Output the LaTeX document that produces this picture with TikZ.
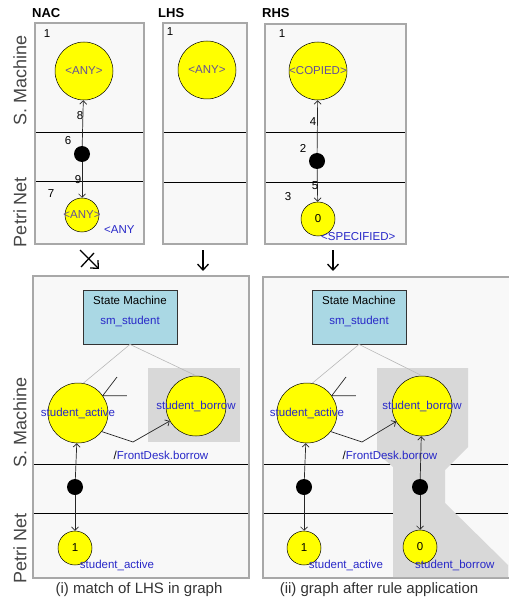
\documentclass[tikz,border=0pt]{standalone}
\usepackage{fontspec}
\setmainfont{Liberation Sans}
\usepackage{tikz}
\usetikzlibrary{arrows.meta,calc,positioning}
\definecolor{panelline}{RGB}{168,168,168}
\definecolor{panelfill}{RGB}{248,248,248}
\definecolor{placefill}{RGB}{255,255,0}
\definecolor{textblue}{RGB}{40,40,200}
\definecolor{anyc}{RGB}{100,80,150}
\definecolor{smfill}{RGB}{170,216,228}
\definecolor{bggray}{RGB}{216,216,216}
\definecolor{linkgray}{RGB}{185,185,185}
\definecolor{sidegray}{RGB}{70,70,70}
\tikzset{
    panel/.style={draw=panelline, line width=2.5pt, fill=panelfill},
    lane/.style={draw=black, line width=0.8pt},
    place/.style={
        circle,
        draw=black, line width=0.5pt,
        fill=placefill,
        inner sep=0pt,
        minimum size=#1
    },
    token/.style={circle, fill=black, inner sep=0pt, minimum size=16pt},
    smbox/.style={
        rectangle,
        draw=black!80, line width=0.8pt,
        fill=smfill,
        minimum width=94pt,
        minimum height=54pt
    },
    smalltext/.style={font={\fontsize{11.5}{13}\selectfont}, inner sep=0pt},
    anytext/.style={smalltext, text=anyc},
    bluetext/.style={smalltext, text=textblue},
    num/.style={smalltext, text=black},
    side/.style={font={\fontsize{18}{20}\selectfont}, text=sidegray, rotate=90, inner sep=0pt},
    paneltitle/.style={font={\fontsize{13}{15}\selectfont\bfseries}, inner sep=0pt, anchor=west},
    capt/.style={font={\fontsize{15}{17}\selectfont}, text=black!80, inner sep=0pt},
    smlink/.style={draw=linkgray, line width=0.6pt},
    arcline/.style={draw=black!85, line width=0.7pt, ->},
    tickline/.style={draw=black!85, line width=0.7pt},
    flow/.style={draw=black, line width=1.3pt},
}

\begin{document}
\begin{tikzpicture}[x=1pt, y=-1pt, >={Straight Barb[length=3.5pt,width=7pt]}]
\useasboundingbox[fill=white] (0,0) rectangle (508,601);

% frames and lanes
\foreach \xa/\ya/\xb/\yb in {35/23/144/244, 163/23/247/244, 265/24/406/244, 33/276/249/578, 263/277/512/578}
  \draw[panel] (\xa,\ya) rectangle (\xb,\yb);

\foreach \xa/\xb/\ya/\yb in {36/143/132/181, 164/246/132/182, 266/405/132/182, 34/248/464/513, 264/508/464/513} {
  \draw[lane] (\xa,\ya) -- (\xb,\ya);
  \draw[lane] (\xa,\yb) -- (\xb,\yb);
}

\fill[bggray] (148,368) rectangle (240,442);
\fill[bggray] (377,368) -- (468,368) -- (468,447) -- (445,470) -- (445,503) -- (508,565)
  -- (508,577) -- (393,577) -- (393,467) -- (377,453) -- cycle;

\node[paneltitle] (nac-t) at (32,13) {NAC};
\node[paneltitle] (lhs-t) at (158,13) {LHS};
\node[paneltitle] (rhs-t) at (262,13) {RHS};

\foreach \l/\y [count=\i] in {S. Machine/80, Petri Net/212, S. Machine/422, Petri Net/548}
  \node[side] (side-\i) at (20,\y) {\l};

% NAC
\node[place=58pt, label={[anytext]center:<ANY>}] (nac-sm) at (84,71) {};
\node[token] (nac-tok) at (82,154) {};
\node[place=34pt, label={[anytext]center:<ANY>}] (nac-pn) at (82,215) {};
\draw[arcline] (nac-tok) -- (nac-sm);
\draw[arcline] (nac-tok) -- (nac-pn);
\foreach \t/\x/\y in {1/47/34, 8/80/116, 6/68/141, 9/78/180, 7/51/194}
  \node[num] (nac-n\t) at (\x,\y) {\t};
\node[bluetext, anchor=west] (nac-any) at (104,230) {<ANY};

% LHS
\node[place=58pt, label={[anytext]center:<ANY>}] (lhs-sm) at (207,70) {};
\node[num] (lhs-n1) at (170,32) {1};

% RHS
\node[place=58pt, label={[anytext]center:<COPIED>}] (rhs-sm) at (318,71) {};
\node[token] (rhs-tok) at (317,161) {};
\node[place=34pt, label={[num]center:0}] (rhs-pn) at (318,219) {};
\draw[arcline] (rhs-tok) -- (rhs-sm);
\draw[arcline] (rhs-tok) -- (rhs-pn);
\foreach \t/\x/\y in {1/282/34, 4/313/122, 2/303/148, 5/315/186, 3/288/197}
  \node[num] (rhs-n\t) at (\x,\y) {\t};
\node[bluetext, anchor=west] (rhs-spec) at (321,237) {<SPECIFIED>};

% rule arrows
\coordinate (nac-a) at (80,250);
\coordinate (nac-b) at (99,269);
\coordinate (nac-c) at (81,267);
\coordinate (nac-d) at (94,253);
\draw[flow, -{Straight Barb[length=6pt,width=11pt]}] (nac-a) -- (nac-b);
\draw[flow] (nac-c) -- (nac-d);
\foreach \p/\x in {lhs/203, rhs/333} {
  \coordinate (\p-a) at (\x,250);
  \coordinate (\p-b) at (\x,271);
  \draw[flow, -{Straight Barb[length=6pt,width=11pt]}] (\p-a) -- (\p-b);
}

% graph before and after
\foreach \p/\dx/\bx in {gl/0/196, gr/229/193} {
  \begin{scope}[xshift=\dx pt]
    \node[smbox] (\p-sm) at (130,317) {};
    \node[smalltext] (\p-smt) at (130,300) {State Machine};
    \node[bluetext] (\p-smn) at (130,321) {sm\_student};
    \node[place=60pt, label={[bluetext]center:student\_active}] (\p-act) at (78,413) {};
    \node[place=60pt, label={[bluetext]center:student\_borrow}] (\p-bor) at (\bx,406) {};
    \draw[smlink] (\p-sm.south) -- (\p-act.80);
    \draw[smlink] (\p-sm.south) -- (\p-bor.north);
    \draw[tickline] ([shift={(39,-36)}]\p-act.center) -- (\p-act.35) -- ++(24,0);
    \coordinate (\p-bend) at (133,442);
    \draw[arcline] (\p-act.-38) -- (\p-bend) -- (\p-bor);
    \node[smalltext] (\p-evt) at (161,455) {/\textcolor{textblue}{FrontDesk.borrow}};
    \node[token] (\p-tok) at (75,487) {};
    \node[place=34pt, label={[num]center:1}] (\p-pl) at (75,548) {};
    \draw[arcline] (\p-tok) -- (\p-act);
    \draw[arcline] (\p-tok) -- (\p-pl);
    \node[bluetext] (\p-pln) at (117,565) {student\_active};
  \end{scope}
}

\node[token] (gr-tok2) at (420,487) {};
\node[place=34pt, label={[num]center:0}] (gr-pl2) at (420,547) {};
\draw[arcline] (gr-tok2) -- (gr-bor);
\draw[arcline] (gr-tok2) -- (gr-pl2);
\node[bluetext, anchor=west] (gr-pln2) at (415,565) {student\_borrow};

\node[capt] (cap-l) at (139,590) {(i) match of LHS in graph};
\node[capt] (cap-r) at (379,590) {(ii) graph after rule application};

\end{tikzpicture}
\end{document}
